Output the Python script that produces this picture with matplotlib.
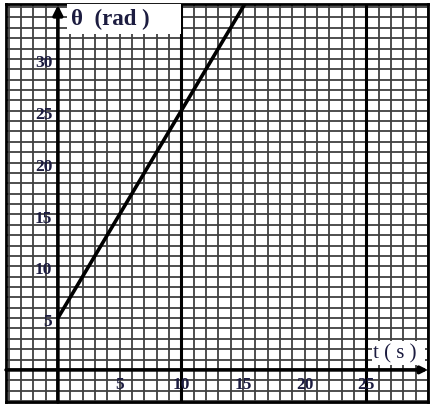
import numpy as np
import matplotlib
matplotlib.use("Agg")
import matplotlib.pyplot as plt
from matplotlib.patches import Rectangle

# data: theta = 5 + 2 t
t_vals = [0, 16]
theta_vals = [5, 37]
x_ticks = [5, 10, 15, 20, 25]
y_ticks = [5, 10, 15, 20, 25, 30]
heavy_t = [10, 25]

plt.rcParams['font.family'] = ['Liberation Serif', 'DejaVu Serif']

fig = plt.figure(figsize=(4.33, 4.10), dpi=100)
ax = fig.add_axes([0.014, 0.017, 0.9745, 0.9708])
ax.set_xlim(-4.2, 30.0)
ax.set_ylim(-3.1, 35.3)

# graph paper
ax.set_xticks([])
ax.set_yticks([])
ax.set_xticks(np.arange(-4, 31), minor=True)
ax.set_yticks(np.arange(-3, 36), minor=True)
ax.tick_params(which='both', length=0, labelbottom=False, labelleft=False)
ax.grid(which='minor', color='#404040', linewidth=1.3, zorder=0)
ax.set_axisbelow(True)
for s in ax.spines.values():
    s.set_linewidth(2)
    s.set_color('black')

for t in heavy_t:
    ax.axvline(t, color='black', lw=2.2, zorder=1)

# axes with arrows
ax.annotate('', xy=(0, 35.2), xytext=(0, -3.1),
            arrowprops=dict(arrowstyle='-|>', lw=2.6, color='black', mutation_scale=14,
                            shrinkA=0, shrinkB=0), zorder=4)
ax.annotate('', xy=(30.0, 0), xytext=(-4.2, 0),
            arrowprops=dict(arrowstyle='-|>', lw=2.6, color='black', mutation_scale=10,
                            shrinkA=0, shrinkB=0), zorder=4)

# the line
ax.plot(t_vals, theta_vals, color='black', lw=2.6, zorder=5, solid_capstyle='butt')

lab_color = '#1c1c40'
for x in x_ticks:
    ax.text(x, -1.4, str(x), ha='center', va='center', fontsize=12.5,
            fontweight='bold', color=lab_color, zorder=6)
for y in y_ticks:
    ax.text(-0.45, y - 0.3, str(y), ha='right', va='center', fontsize=12.5,
            fontweight='bold', color=lab_color, zorder=6)

# axis titles on white boxes
ax.add_patch(Rectangle((0.75, 32.45), 9.2, 3.2, facecolor='white', edgecolor='none', zorder=3))
ax.text(1.1, 33.9, 'θ  (rad )', ha='left', va='center', fontsize=16.5,
        fontweight='bold', color=lab_color, zorder=6)
ax.add_patch(Rectangle((25.45, 0.45), 4.3, 2.35, facecolor='white', edgecolor='none', zorder=3))
ax.text(25.55, 1.6, 't ( s )', ha='left', va='center', fontsize=15,
        color=lab_color, zorder=6)

fig.savefig('out.png', dpi=100)
